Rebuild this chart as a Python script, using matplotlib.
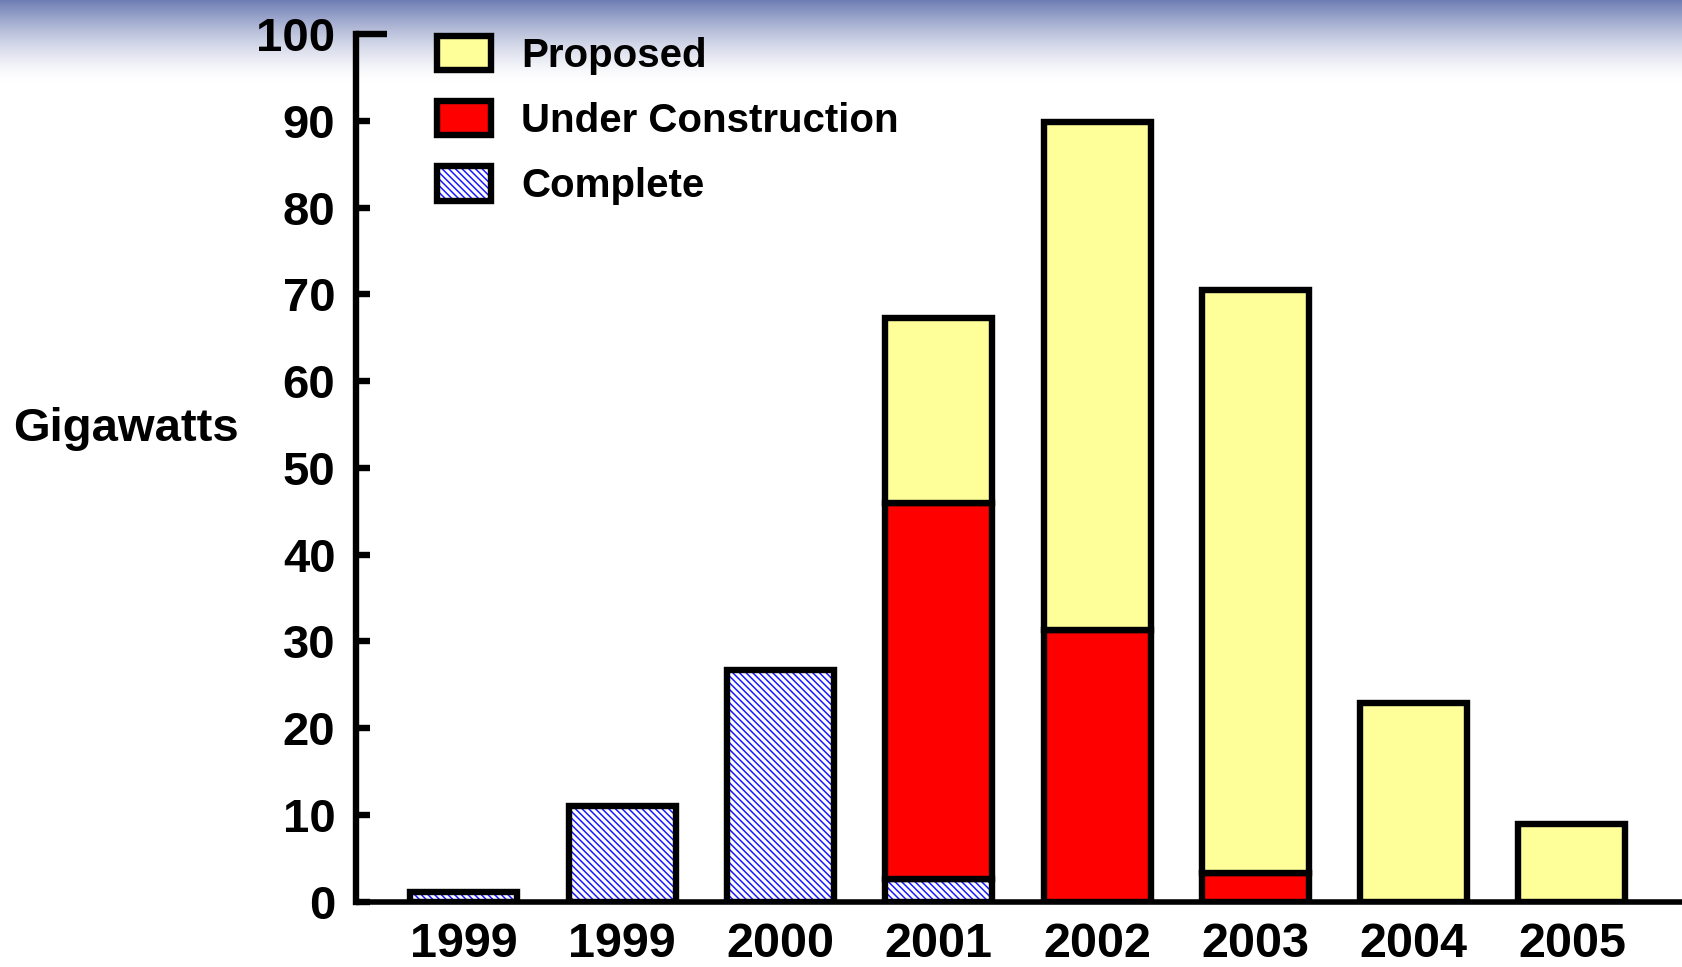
import matplotlib
matplotlib.use("Agg")
import matplotlib.pyplot as plt
import matplotlib.patches as mpatches
import numpy as np

# values (gigawatts)
years = ['1999', '1999', '2000', '2001', '2002', '2003', '2004', '2005']
complete = [1.1, 11.0, 26.7, 2.6, 0.0, 0.0, 0.0, 0.0]
under_construction = [0.0, 0.0, 0.0, 43.3, 31.3, 3.3, 0.0, 0.0]
proposed = [0.0, 0.0, 0.0, 21.4, 58.6, 67.2, 22.9, 8.9]
yticks = [0, 10, 20, 30, 40, 50, 60, 70, 80, 90, 100]

YELLOW = '#FFFF99'
RED = '#FF0000'
BLUE = '#1a1aff'
EDGE_LW = 4.6
HATCH = '\\\\\\\\\\'

plt.rcParams['font.family'] = ['Liberation Sans', 'DejaVu Sans']
plt.rcParams['font.weight'] = 'bold'
plt.rcParams['hatch.linewidth'] = 1.1

fig = plt.figure(figsize=(16.83, 9.67), dpi=100)

# bluish gradient band along the top
bg = fig.add_axes([0, 0.915, 1, 0.085], zorder=0)
grad = np.linspace(1, 0, 256).reshape(-1, 1) ** 1.5
top = np.array([0.42, 0.48, 0.70])
img = 1 - grad[..., None] * (1 - top)
bg.imshow(img, aspect='auto', extent=[0, 1, 0, 1])
bg.axis('off')

ax = fig.add_axes([0.2117, 0.0677, 0.7863, 0.8968], zorder=1)
ax.patch.set_alpha(0)

x = np.arange(len(years))
w = 0.676
comp = np.array(complete)
uc = np.array(under_construction)
prop = np.array(proposed)


def stacked(heights, bottom, color, hatch=None):
    bars = ax.bar(x, heights, w, bottom=bottom, color=color, edgecolor='black',
                  linewidth=EDGE_LW, hatch=hatch, zorder=3)
    for b, h in zip(bars, heights):
        if hatch:
            b._hatch_color = matplotlib.colors.to_rgba(BLUE)
        if h <= 0:
            b.set_visible(False)
    return bars


stacked(comp, 0, 'white', hatch=HATCH)
stacked(uc, comp, RED)
stacked(prop, comp + uc, YELLOW)

ax.set_xlim(-0.68, len(years) - 1 + 0.68)
ax.set_ylim(0, 100)
ax.set_yticks(yticks)
ax.set_xticks(x)
ax.set_xticklabels(years, fontsize=35, fontweight='bold')
ax.set_yticklabels([str(t) for t in yticks], fontsize=34, fontweight='bold')

for s in ['top', 'right']:
    ax.spines[s].set_visible(False)
ax.spines['left'].set_linewidth(EDGE_LW)
ax.spines['bottom'].set_linewidth(4.0)
ax.spines['left'].set_capstyle('projecting')
ax.spines['bottom'].set_capstyle('projecting')

ax.tick_params(axis='y', direction='in', length=10, width=EDGE_LW, pad=15)
ax.tick_params(axis='x', length=0, pad=15)
ax.yaxis.get_major_ticks()[-1].tick1line.set_markersize(22)

ax.set_ylabel('Gigawatts', rotation=0, fontsize=34, fontweight='bold',
              ha='center', va='center')
ax.yaxis.set_label_coords(-0.1744, 0.545)

h_prop = mpatches.Patch(facecolor=YELLOW, edgecolor='black', linewidth=EDGE_LW)
h_uc = mpatches.Patch(facecolor=RED, edgecolor='black', linewidth=EDGE_LW)
h_comp = mpatches.Patch(facecolor='white', edgecolor='black', linewidth=EDGE_LW,
                        hatch=HATCH)
h_comp._hatch_color = matplotlib.colors.to_rgba(BLUE)

leg = ax.legend([h_prop, h_uc, h_comp], ['Proposed', 'Under Construction', 'Complete'],
                loc='upper left', bbox_to_anchor=(0.061, 0.998), frameon=False,
                fontsize=29, handlelength=1.33, handleheight=0.93,
                handletextpad=0.76, labelspacing=0.65, borderpad=0, borderaxespad=0)
for t in leg.get_texts():
    t.set_fontweight('bold')

fig.savefig('out.png', dpi=100)
